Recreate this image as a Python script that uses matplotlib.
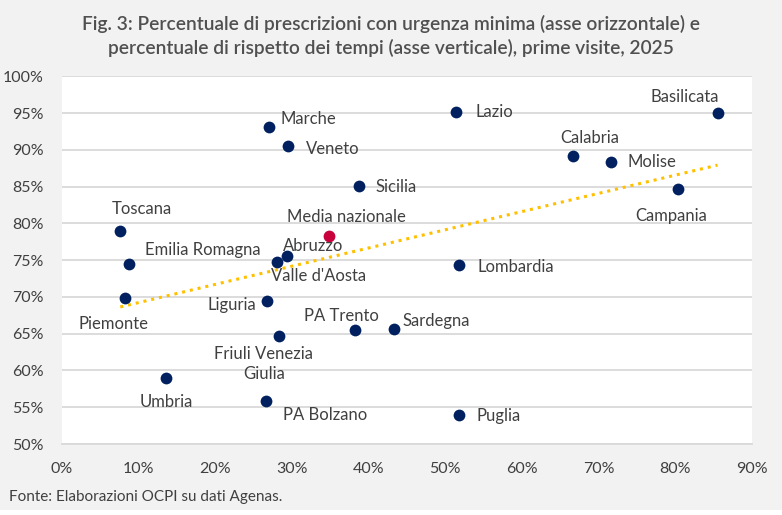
import numpy as np
import matplotlib
matplotlib.use('Agg')
import matplotlib.pyplot as plt
from matplotlib.patches import Rectangle
from matplotlib.ticker import PercentFormatter

# ── Data ──────────────────────────────────────────────────────────────────────
regions = ['Basilicata', 'Lazio', 'Marche', 'Veneto', 'Calabria', 'Molise',
           'Sicilia', 'Campania', 'Toscana', 'Emilia Romagna', 'Abruzzo',
           "Valle d'Aosta", 'Lombardia', 'Piemonte', 'Liguria', 'PA Trento',
           'Sardegna', 'Friuli Venezia\nGiulia', 'Umbria', 'PA Bolzano', 'Puglia']
urgenza = [85.5, 51.4, 27.0, 29.5, 66.6, 71.6, 38.7, 80.3, 7.6, 8.8, 29.4,
           28.0, 51.8, 8.2, 26.8, 38.2, 43.3, 28.3, 13.6, 26.6, 51.8]
rispetto = [95.0, 95.1, 93.1, 90.5, 89.2, 88.4, 85.1, 84.7, 78.9, 74.5, 75.6,
            74.8, 74.3, 69.8, 69.4, 65.5, 65.7, 64.7, 59.0, 55.8, 54.0]

media_label = 'Media nazionale'
media_x = 34.8
media_y = 78.3

# label placement: (dx, dy, ha) in pixels from the marker
label_pos = {
    'Basilicata': (-33, 16, 'center'),
    'Lazio': (19, 0, 'left'),
    'Marche': (12, 8, 'left'),
    'Veneto': (18, -3, 'left'),
    'Calabria': (17, 18, 'center'),
    'Molise': (17, 0, 'left'),
    'Sicilia': (17, -1, 'left'),
    'Campania': (-6, -27, 'center'),
    'Toscana': (22, 22, 'center'),
    'Emilia Romagna': (16, 14, 'left'),
    'Abruzzo': (-4, 10, 'left'),
    "Valle d'Aosta": (-6, -14, 'left'),
    'Lombardia': (18, -2, 'left'),
    'Piemonte': (-11, -26, 'center'),
    'Liguria': (-11, -4, 'right'),
    'PA Trento': (-13, 14, 'center'),
    'Sardegna': (9, 8, 'left'),
    'Friuli Venezia\nGiulia': (-15, -28, 'center'),
    'Umbria': (0, -24, 'center'),
    'PA Bolzano': (17, -14, 'left'),
    'Puglia': (17, -1, 'left'),
}

NAVY = '#002060'
RED = '#c8003c'
GOLD = '#ffc000'
TXT = '#404040'
BG = '#f2f2f2'

plt.rcParams['font.family'] = ['Lato', 'DejaVu Sans']

fig = plt.figure(figsize=(7.82, 5.15), dpi=100, facecolor=BG)
# white strip along the bottom edge, as in the original export
fig.patches.append(Rectangle((0, 0), 1, 5 / 515, transform=fig.transFigure,
                             facecolor='white', edgecolor='none', zorder=0))
ax = fig.add_axes([62 / 782, 1 - 444 / 515, 690 / 782, 367.7 / 515])
ax.set_facecolor('white')

# trend line (least squares over the regions)
coef = np.polyfit(urgenza, rispetto, 1)
xs = np.array([min(urgenza), max(urgenza)])
ax.plot(xs, np.polyval(coef, xs), color=GOLD, lw=2.2, ls=(0, (1, 1.6)), zorder=2)

ax.scatter(urgenza, rispetto, s=72, color=NAVY, zorder=3, linewidths=0)
ax.scatter([media_x], [media_y], s=72, color=RED, zorder=3, linewidths=0)

for name, x, y in zip(regions, urgenza, rispetto):
    dx, dy, ha = label_pos[name]
    ax.annotate(name, (x, y), xytext=(dx, dy), textcoords='offset pixels',
                ha=ha, va='center', fontsize=12, color=TXT, linespacing=1.3)
ax.annotate(media_label, (media_x, media_y), xytext=(18, 19),
            textcoords='offset pixels', ha='center', va='center',
            fontsize=12, color=TXT)

ax.set_xlim(0, 90)
ax.set_ylim(50, 100)
ax.set_xticks(np.arange(0, 91, 10))
ax.set_yticks(np.arange(50, 101, 5))
ax.xaxis.set_major_formatter(PercentFormatter(decimals=0))
ax.yaxis.set_major_formatter(PercentFormatter(decimals=0))
ax.tick_params(length=0, labelsize=11.5, colors=TXT)
ax.tick_params(axis='x', pad=13)
ax.tick_params(axis='y', pad=13)
for lbl in ax.get_yticklabels():
    lbl.set_verticalalignment('center_baseline')
ax.grid(axis='y', color='#d9d9d9', lw=1.3)
ax.set_axisbelow(True)
for side in ['top', 'right', 'left']:
    ax.spines[side].set_visible(False)
ax.spines['bottom'].set_color('#d9d9d9')
ax.spines['bottom'].set_linewidth(1.3)

fig.text(0.5, 1 - 36 / 515, 'Fig. 3: Percentuale di prescrizioni con urgenza minima (asse orizzontale) e\n'
         'percentuale di rispetto dei tempi (asse verticale), prime visite, 2025',
         ha='center', va='center', fontsize=13.8, fontweight='semibold', color='#505050',
         linespacing=1.45)
fig.text(0.012, 1 - 497 / 515, 'Fonte: Elaborazioni OCPI su dati Agenas.', ha='left',
         va='center', fontsize=11, color=TXT)

fig.savefig('out.png', dpi=100, facecolor=BG)
